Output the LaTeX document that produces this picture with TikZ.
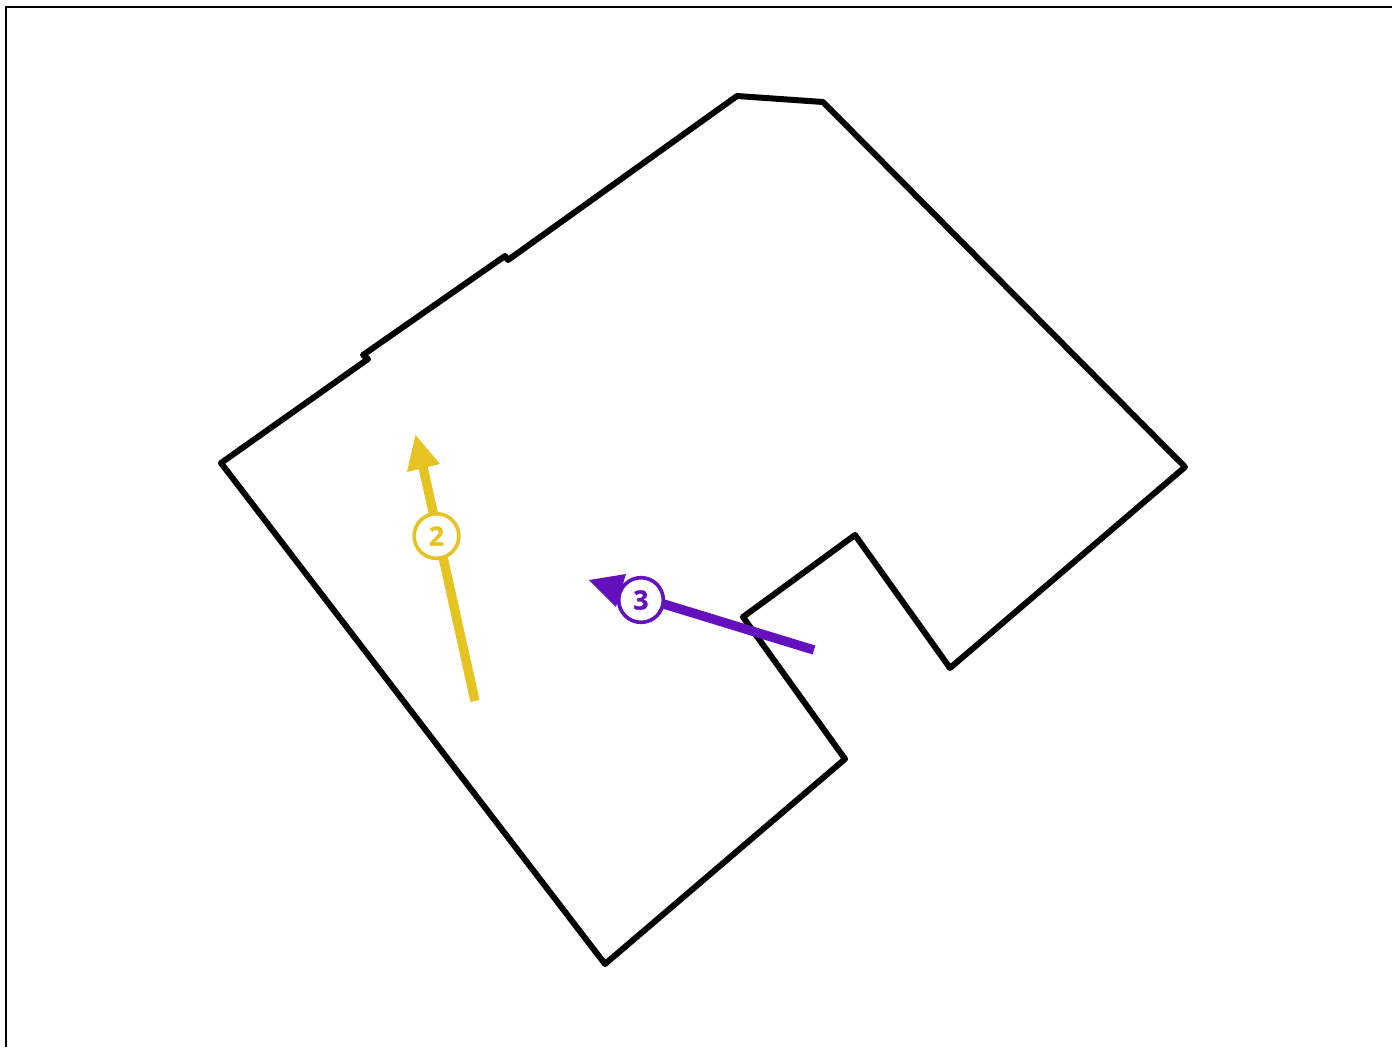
\documentclass[tikz,border=0pt]{standalone}
\usepackage{fontspec}
\setmainfont{Open Sans}[BoldFeatures={FakeBold=0.8}]
\definecolor{signyellow}{HTML}{E6C323}
\definecolor{signpurple}{HTML}{6410BE}
\tikzset{
  outline/.style={draw=black,line width=4.5pt,line join=round,line cap=round},
  frameline/.style={draw=black,line width=2.2pt},
  shaft/.style={line width=7pt,line cap=butt},
  head/.style={fill=#1,draw=none},
  badge/.style={circle,draw=#1,fill=white,line width=2.7pt,minimum size=33.5pt,inner sep=0pt,text=#1,font=\fontsize{20}{20}\bfseries\selectfont}
}
\begin{document}
\begin{tikzpicture}[x=0.75pt,y=-0.75pt]
\useasboundingbox (0,0) rectangle (1392,1047);
\coordinate (fa) at (6,1047);
\coordinate (fb) at (6,7);
\coordinate (fc) at (1392,7);
\draw[frameline] (fa) -- (fb) -- (fc);
\draw[outline] (221,463) -- (368,359) -- (363,355) -- (505,256) -- (508,260) -- (737,96) -- (823,102) -- (1185,467) -- (950,668) -- (855,535) -- (743,617) -- (845,759) -- (605,964) -- cycle;
% yellow arrow
\coordinate (t2) at (475,701);
\coordinate (b2) at (423,467);
\fill[head=signyellow] (415.5,435) -- (440,464) -- (407,472) -- cycle;
\draw[shaft,draw=signyellow] (t2) -- (b2);
\node[badge=signyellow] (n2) at (436.5,536) {2};
% purple arrow
\coordinate (t3) at (814,650);
\coordinate (b3) at (618,590);
\fill[head=signpurple] (589,580) -- (626,574) -- (616,607) -- cycle;
\draw[shaft,draw=signpurple] (t3) -- (b3);
\node[badge=signpurple] (n3) at (641,600) {3};
\end{tikzpicture}
\end{document}
